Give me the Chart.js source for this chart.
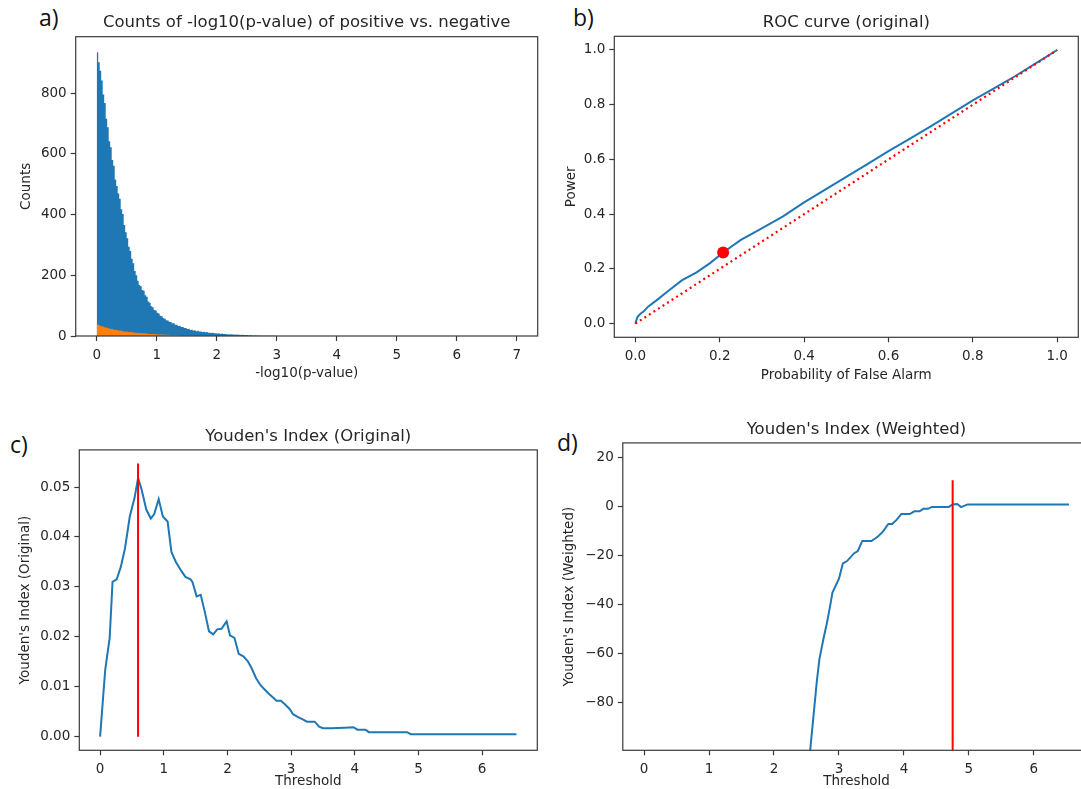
<!DOCTYPE html>
<html>
<head>
<meta charset="utf-8">
<title>ROC / Youden panels</title>
<script src="https://cdn.jsdelivr.net/npm/chart.js@4.4.0/dist/chart.umd.min.js"></script>
<style>
    html, body { margin: 0; padding: 0; background: #fff; width: 1081px; height: 789px; overflow: hidden; }
    canvas { position: absolute; }
    .tag { position: absolute; font-family: 'Open Sans', 'DejaVu Sans', sans-serif; font-size: 23px; line-height: 1; color: #111; }
</style>
</head>
<body>
<div class="tag" style="left:39px;top:6px">a)</div>
<div class="tag" style="left:573px;top:6px">b)</div>
<div class="tag" style="left:10px;top:433px">c)</div>
<div class="tag" style="left:557px;top:431px">d)</div>
<canvas id="histChart"></canvas>
<canvas id="rocChart"></canvas>
<canvas id="youdenChart"></canvas>
<canvas id="weightedChart"></canvas>
<script>
"use strict";

/* a) histogram of -log10(p-value), bins of 0.025 starting at 0 */
var histBinStart = 0;
var histBinWidth = 0.025;
var positiveCounts = [
    935, 902, 874, 842, 796, 768, 716, 688, 642, 622,
    580, 561, 516, 494, 470, 452, 418, 402, 366, 342,
    322, 294, 280, 255, 240, 214, 200, 182, 168, 164,
    152, 149, 134, 129, 114, 110, 98, 95, 86, 84,
    77, 74, 67, 65, 59, 57, 52, 51, 47, 46,
    42, 42, 37, 37, 33, 34, 30, 30, 26, 26,
    23, 24, 20, 21, 18, 19, 16, 17, 15, 15,
    13, 14, 12, 13, 11, 11, 10, 11, 9, 9,
    8, 9, 7, 8, 7, 7, 6, 6, 5, 6,
    5, 5, 4, 5, 4, 4, 3, 4, 3, 3,
    3, 2, 3, 2, 2, 2, 2, 1, 2, 1,
    1, 1, 1, 1, 1, 0.5, 1, 0.5, 0.5, 0.5
];
var negativeCounts = [
    38, 36, 33, 32, 31, 28, 28, 26, 24, 24,
    23, 21, 21, 20, 18, 18, 17, 16, 15, 15,
    14, 13, 13, 12, 12, 11, 11, 10, 10, 9,
    9, 9, 8, 8, 7, 7, 7, 7, 6, 6,
    6, 5, 5, 5, 5, 4, 4, 4, 4, 3,
    3, 3, 3, 3, 3, 2, 2, 2, 2, 2,
    2, 2, 2, 2, 1, 1, 1, 1, 1, 1,
    1, 1, 1, 1, 1, 0.5, 0.5, 0.5, 0.5, 0.5
];
var histXTicks = [0, 1, 2, 3, 4, 5, 6, 7];
var histYTicks = [0, 200, 400, 600, 800];

/* b) ROC curve */
var rocFpr = [0, 0.005, 0.012, 0.02, 0.03, 0.05, 0.08, 0.11, 0.145, 0.177, 0.208, 0.25, 0.29, 0.35, 0.4, 0.45, 0.5, 0.55, 0.6, 0.65, 0.7, 0.75, 0.8, 0.85, 0.9, 0.95, 1.0];
var rocTpr = [0, 0.025, 0.036, 0.045, 0.062, 0.085, 0.122, 0.158, 0.187, 0.221, 0.26, 0.306, 0.34, 0.392, 0.443, 0.49, 0.536, 0.583, 0.63, 0.675, 0.721, 0.768, 0.816, 0.86, 0.904, 0.952, 1.0];
var chanceLine = [0, 1];
var bestPoint = [0.208, 0.26];
var rocTicks = [0, 0.2, 0.4, 0.6, 0.8, 1.0];

/* c) Youden's index (original) */
var origThreshold = [0, 0.08, 0.15, 0.195, 0.26, 0.325, 0.39, 0.466, 0.54, 0.596, 0.65, 0.725, 0.796, 0.85, 0.92, 0.985, 1.06, 1.12, 1.19, 1.27, 1.34, 1.42, 1.45, 1.516, 1.58, 1.646, 1.71, 1.776, 1.84, 1.906, 1.987, 2.04, 2.11, 2.177, 2.25, 2.32, 2.38, 2.45, 2.52, 2.58, 2.65, 2.72, 2.77, 2.84, 2.91, 2.98, 3.03, 3.11, 3.19, 3.25, 3.37, 3.44, 3.5, 3.63, 3.84, 3.98, 4.04, 4.17, 4.22, 4.38, 4.82, 4.88, 6.54];
var origYouden = [0, 0.0134, 0.0198, 0.031, 0.0315, 0.0340, 0.0377, 0.0441, 0.0478, 0.0518, 0.0496, 0.0455, 0.0437, 0.0446, 0.0476, 0.0441, 0.0431, 0.037, 0.035, 0.0333, 0.032, 0.0315, 0.031, 0.0281, 0.0284, 0.0249, 0.0211, 0.0205, 0.0215, 0.0216, 0.0231, 0.0203, 0.0198, 0.0166, 0.0161, 0.0151, 0.0137, 0.0117, 0.0103, 0.0095, 0.0086, 0.0078, 0.0072, 0.0072, 0.0064, 0.0055, 0.0045, 0.0039, 0.0034, 0.003, 0.003, 0.002, 0.0017, 0.0017, 0.0018, 0.0019, 0.0014, 0.0014, 0.0009, 0.0009, 0.0009, 0.0005, 0.0005];
var origBest = { threshold: 0.596, top: 0.0547 };
var origYTicks = [0, 0.01, 0.02, 0.03, 0.04, 0.05];
var thresholdTicks = [0, 1, 2, 3, 4, 5, 6];

/* d) Youden's index (weighted) */
var wThreshold = [2.49, 2.558, 2.62, 2.66, 2.70, 2.76, 2.81, 2.86, 2.90, 3.0, 3.06, 3.125, 3.23, 3.29, 3.36, 3.50, 3.60, 3.68, 3.76, 3.82, 3.89, 3.96, 4.09, 4.16, 4.24, 4.30, 4.37, 4.43, 4.69, 4.75, 4.82, 4.88, 4.98, 6.54];
var wYouden = [-140, -99, -82, -71, -62, -54, -48, -41, -35, -29.3, -23.1, -22.1, -19, -18, -13.9, -13.9, -12.1, -10, -7, -7, -5.2, -2.9, -2.9, -1.8, -1.8, -0.8, -0.8, 0, 0, 1, 1.2, -0.1, 1, 1];
var wBest = { threshold: 4.75, bottom: -200, top: 10.9 };
var wYTicks = [-80, -60, -40, -20, 0, 20];

var TEXT = '#262626';
var SPINE = '#3a3a3a';
var BLUE = '#1f77b4';
var ORANGE = '#ff7f0e';
var RED = '#ff0000';

Chart.defaults.font.family = "'DejaVu Sans', sans-serif";
Chart.defaults.color = TEXT;

/* panel geometry in page pixels: axes box, title centre, axis label centres */
var layoutA = { box: [75.7, 36.7, 537.7, 336], titleY: 22.9, xlabY: 373.7, ylabX: 26.9 };
var layoutB = { box: [614.3, 36.3, 1078.3, 337.3], titleY: 22.9, xlabY: 375.4, ylabX: 571 };
var layoutC = { box: [79.3, 449.9, 537.3, 750.3], titleY: 436.5, xlabY: 781, ylabX: 25.9 };
var layoutD = { box: [622.8, 442.9, 1090.2, 750.3], titleY: 429.7, xlabY: 781, ylabX: 569.3 };

/* matplotlib style frame round the axes */
var spinePlugin = {
    id: 'spines',
    afterDatasetsDraw: function (chart) {
        var a = chart.chartArea, ctx = chart.ctx;
        ctx.save();
        ctx.strokeStyle = SPINE;
        ctx.lineWidth = 1.2;
        ctx.strokeRect(a.left, a.top, a.right - a.left, a.bottom - a.top);
        ctx.restore();
    }
};

function fmtFixed(n) {
    return function (v) { return v.toFixed(n); };
}
function fmtMinus(v) {
    return v < 0 ? '\u2212' + Math.abs(v) : String(v);
}

function scaleOpts(o) {
    var isX = o.axis === 'x';
    return {
        type: 'linear',
        position: isX ? 'bottom' : 'left',
        min: o.min,
        max: o.max,
        offset: false,
        afterBuildTicks: function (s) {
            s.ticks = o.ticks.map(function (v) { return { value: v }; });
        },
        afterFit: function (s) {
            if (isX) { s.height = o.size; } else { s.width = o.size; }
        },
        border: { display: false },
        grid: {
            display: true,
            drawOnChartArea: false,
            drawTicks: true,
            tickLength: 5,
            tickWidth: 1.2,
            tickColor: SPINE,
            offset: false
        },
        ticks: {
            autoSkip: false,
            maxRotation: 0,
            minRotation: 0,
            padding: isX ? 6 : 4,
            color: TEXT,
            font: { size: 13.5 },
            callback: o.fmt
        },
        title: {
            display: true,
            text: o.title,
            color: TEXT,
            font: { size: 13.5 },
            padding: isX ? { top: 0, bottom: o.titlePad } : { top: o.titlePad, bottom: 0 }
        }
    };
}

function buildPanel(id, geo, datasets, xo, yo, titleText) {
    var cv = document.getElementById(id);
    var left = Math.round(geo.ylabX - 10), top = Math.round(geo.titleY - 12);
    var right = Math.round(geo.box[2] + 12), bottom = Math.round(geo.xlabY + 12);
    cv.width = right - left;
    cv.height = bottom - top;
    cv.style.left = left + 'px';
    cv.style.top = top + 'px';
    cv.style.width = (right - left) + 'px';
    cv.style.height = (bottom - top) + 'px';

    var titleLH = 16.5 * 1.2, labelLH = 13.5 * 1.2;
    var tPadTop = geo.titleY - top - titleLH / 2;
    var tPadBot = geo.box[1] - top - tPadTop - titleLH;
    xo.axis = 'x';
    xo.size = bottom - geo.box[3];
    xo.titlePad = bottom - geo.xlabY - labelLH / 2;
    yo.axis = 'y';
    yo.size = geo.box[0] - left;
    yo.titlePad = geo.ylabX - left - labelLH / 2;

    return new Chart(cv, {
        type: 'line',
        data: { datasets: datasets },
        options: {
            responsive: false,
            animation: false,
            devicePixelRatio: 1,
            layout: { padding: { left: 0, top: 0, bottom: 0, right: right - geo.box[2] } },
            plugins: {
                legend: { display: false },
                tooltip: { enabled: false },
                title: {
                    display: true,
                    text: titleText,
                    fullSize: false,
                    color: TEXT,
                    font: { size: 16.5, weight: 'normal' },
                    padding: { top: tPadTop, bottom: tPadBot }
                }
            },
            scales: { x: scaleOpts(xo), y: scaleOpts(yo) }
        },
        plugins: [spinePlugin]
    });
}

/* histogram outline: each count holds from its left bin edge to the next edge */
function binEdges(counts) {
    var pts = counts.map(function (c, k) {
        return { x: histBinStart + histBinWidth * k, y: c };
    });
    pts.push({ x: histBinStart + histBinWidth * counts.length, y: 0 });
    return pts;
}
function pairPoints(xs, ys) {
    return xs.map(function (x, i) { return { x: x, y: ys[i] }; });
}

/* a) */
buildPanel('histChart', layoutA, [
    {
        label: 'negative', data: binEdges(negativeCounts), stepped: 'before',
        backgroundColor: ORANGE, borderWidth: 0, pointRadius: 0, fill: 'origin'
    },
    {
        label: 'positive', data: binEdges(positiveCounts), stepped: 'before',
        backgroundColor: BLUE, borderWidth: 0, pointRadius: 0, fill: 'origin'
    }
], { min: -0.35, max: 7.35, ticks: histXTicks, fmt: function (v) { return String(v); }, title: '-log10(p-value)' },
   { min: 0, max: 986.5, ticks: histYTicks, fmt: function (v) { return String(v); }, title: 'Counts' },
   'Counts of -log10(p-value) of positive vs. negative');

/* b) */
buildPanel('rocChart', layoutB, [
    {
        data: [{ x: bestPoint[0], y: bestPoint[1] }], showLine: false,
        pointRadius: 6, pointBackgroundColor: RED, pointBorderWidth: 0
    },
    {
        data: pairPoints(chanceLine, chanceLine), borderColor: RED, borderWidth: 2.2,
        borderDash: [2, 3.4], pointRadius: 0, fill: false
    },
    {
        data: pairPoints(rocFpr, rocTpr), borderColor: BLUE, borderWidth: 2,
        pointRadius: 0, fill: false, tension: 0
    }
], { min: -0.05, max: 1.05, ticks: rocTicks, fmt: fmtFixed(1), title: 'Probability of False Alarm' },
   { min: -0.05, max: 1.05, ticks: rocTicks, fmt: fmtFixed(1), title: 'Power' },
   'ROC curve (original)');

/* c) */
buildPanel('youdenChart', layoutC, [
    {
        data: [{ x: origBest.threshold, y: 0 }, { x: origBest.threshold, y: origBest.top }],
        borderColor: RED, borderWidth: 2, pointRadius: 0, fill: false
    },
    {
        data: pairPoints(origThreshold, origYouden), borderColor: BLUE, borderWidth: 2,
        pointRadius: 0, fill: false, tension: 0
    }
], { min: -0.327, max: 6.867, ticks: thresholdTicks, fmt: function (v) { return String(v); }, title: 'Threshold' },
   { min: -0.00274, max: 0.05745, ticks: origYTicks, fmt: fmtFixed(2), title: "Youden's Index (Original)" },
   "Youden's Index (Original)");

/* d) */
buildPanel('weightedChart', layoutD, [
    {
        data: [{ x: wBest.threshold, y: wBest.bottom }, { x: wBest.threshold, y: wBest.top }],
        borderColor: RED, borderWidth: 2, pointRadius: 0, fill: false
    },
    {
        data: pairPoints(wThreshold, wYouden), borderColor: BLUE, borderWidth: 2,
        pointRadius: 0, fill: false, tension: 0
    }
], { min: -0.327, max: 6.867, ticks: thresholdTicks, fmt: function (v) { return String(v); }, title: 'Threshold' },
   { min: -99.3, max: 26.1, ticks: wYTicks, fmt: fmtMinus, title: "Youden's Index (Weighted)" },
   "Youden's Index (Weighted)");
</script>
</body>
</html>
